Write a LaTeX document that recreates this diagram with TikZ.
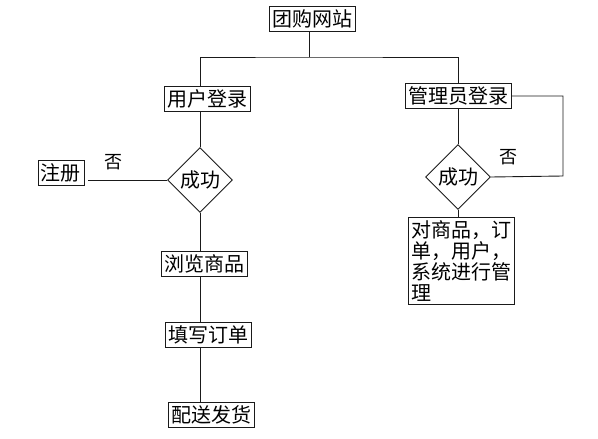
\documentclass[tikz,border=0pt]{standalone}
\usepackage{fontspec}
\newfontfamily\cjk{Noto Sans CJK SC}
\usepackage{tikz}
\usetikzlibrary{shapes.geometric,positioning}
\definecolor{ink}{HTML}{1A1A1A}
\tikzset{box/.style={draw=ink,line width=.9pt,inner xsep=3pt,inner ysep=3pt,font=\cjk\fontsize{20}{22}\selectfont},decide/.style={draw=ink,line width=.9pt,diamond,aspect=1,minimum size=65pt,inner sep=0pt,font=\cjk\fontsize{20}{22}\selectfont},link/.style={draw=ink,line width=.9pt},note/.style={font=\cjk\fontsize{18}{20}\selectfont}}

\begin{document}
\begin{tikzpicture}[x=1pt,y=-1pt]
 \useasboundingbox (0,0) rectangle (598,439);
 \node[box] (site) at (312,19) {团购网站};
 \node[box] (user) at (207,99) {用户登录};
 \node[box] (admin) at (458,96) {管理员登录};
 \node[decide] (ok1) at (200,180) {成功};
 \node[decide] (ok2) at (458,177) {成功};
 \node[box] (reg) at (61,173) {注册};
 \node[box] (browse) at (204,264) {浏览商品};
 \node[box] (order) at (208,335) {填写订单};
 \node[box] (ship) at (211,415) {配送发货};
 \node[box,align=left,inner sep=3pt,font=\cjk\fontsize{20}{21}\selectfont,anchor=north] (manage) at (461,217) {对商品，订\\单，用户，\\系统进行管\\理};
 \node[note] (no1) at (113,162) {否};
 \node[note] (no2) at (508,157) {否};
 \coordinate (bus) at (309,57);
 \coordinate (loop) at (563,176);
 % tree from the top box
 \draw[link] (site.south -| bus) -- (bus);
 \draw[link] (user.north -| ok1.north) |- (bus) -| (admin.north);
 \draw[link] (user.south -| ok1.north) -- (ok1.north);
 % left column
 \draw[link] (ok1.west) -- ([xshift=4pt]reg.east |- ok1.west);
 \draw[link] (ok1.south) -- (ok1.south |- browse.north);
 \draw[link] (browse.south -| ok1.south) -- (order.north -| ok1.south);
 \draw[link] (order.south -| ok1.south) -- (ship.north -| ok1.south);
 % right column
 \draw[link] (admin.south) -- (ok2.north);
 \draw[link] (admin.east) -| (loop) -- (ok2.east);
 \draw[link] (ok2.south) -- (ok2.south |- manage.north);
\end{tikzpicture}
\end{document}
